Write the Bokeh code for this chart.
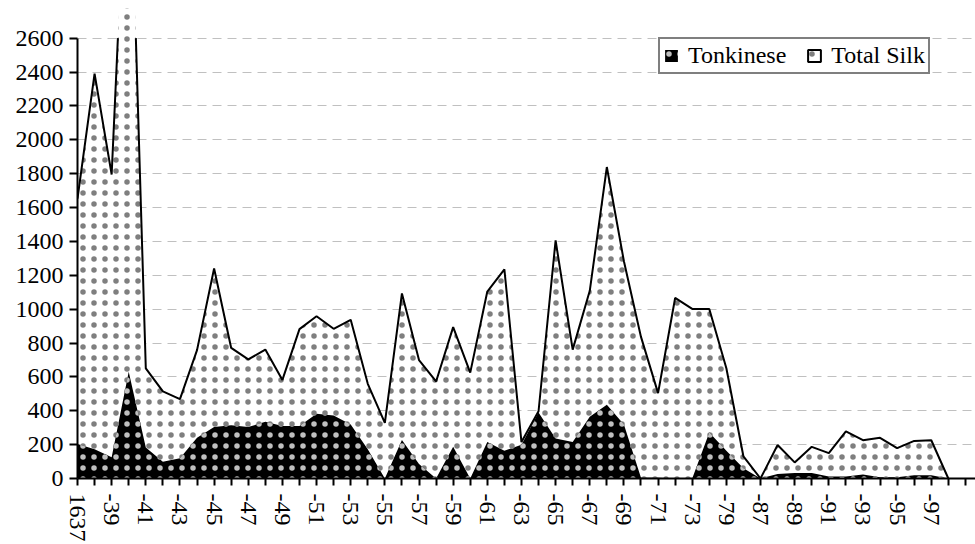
import numpy as np
from bokeh.plotting import figure
from bokeh.models import Range1d, FixedTicker, Legend, LegendItem
from bokeh.embed import file_html
from bokeh.resources import INLINE

# ---- data ----
categories = ["1637", "-38", "-39", "-40", "-41", "-42", "-43", "-44", "-45", "-46",
              "-47", "-48", "-49", "-50", "-51", "-52", "-53", "-54", "-55", "-56",
              "-57", "-58", "-59", "-60", "-61", "-62", "-63", "-64", "-65", "-66",
              "-67", "-68", "-69", "-70", "-71", "-72", "-73", "-74", "-79", "-80",
              "-87", "-88", "-89", "-90", "-91", "-92", "-93", "-94", "-95", "-96",
              "-97", "-98"]
total_silk = [1653, 2390, 1795, 4000, 650, 514, 469, 758, 1240, 771,
              703, 761, 582, 882, 958, 884, 937, 559, 329, 1093,
              699, 573, 894, 625, 1104, 1235, 215, 397, 1406, 761,
              1108, 1839, 1283, 836, 504, 1066, 1001, 1001, 651, 130,
              0, 198, 95, 187, 150, 278, 226, 240, 179, 222,
              226, 0]
tonkinese = [203, 173, 125, 631, 183, 99, 120, 241, 304, 314,
             304, 335, 310, 310, 382, 372, 319, 173, 0, 228,
             86, 0, 187, 0, 216, 164, 200, 390, 236, 216,
             364, 436, 319, 5, 5, 0, 0, 271, 164, 60,
             0, 27, 33, 33, 12, 12, 23, 8, 8, 19,
             19, 0]
y_ticks = list(range(0, 2601, 200))
series_names = ["Tonkinese", "Total Silk"]

FONT = '"Liberation Serif", "Times New Roman", serif'
FS = "24px"
n = len(categories)
xs = np.arange(n)

SILK_H = dict(hatch_pattern="dot", hatch_scale=11, hatch_weight=0.1,
              hatch_color="black", hatch_alpha=0.5)
TONK_H = dict(hatch_pattern="dot", hatch_scale=11, hatch_weight=0.1,
              hatch_color="white", hatch_alpha=0.75)

p = figure(width=975, height=544, x_range=Range1d(0, 52.59), y_range=Range1d(0, 2775),
           output_backend="svg", toolbar_location=None,
           min_border_left=77, min_border_right=0, min_border_top=8, min_border_bottom=61)
p.outline_line_color = None
p.background_fill_color = "white"
p.border_fill_color = "white"

# areas
silk_area = p.varea(x=xs, y1=0, y2=total_silk, fill_color="white", **SILK_H)
tonk_area = p.varea(x=xs, y1=0, y2=tonkinese, fill_color="black", **TONK_H)

# total silk outline, clipped at the top value axis (2600)
cap = y_ticks[-1]
lx, ly = [], []
for k in range(n):
    x1, y1 = xs[k], total_silk[k]
    if k > 0:
        x0, y0 = xs[k - 1], total_silk[k - 1]
        if (y0 <= cap) != (y1 <= cap):
            t = (cap - y0) / (y1 - y0)
            lx.append(x0 + t * (x1 - x0)); ly.append(cap)
            if y1 > cap:
                lx.append(np.nan); ly.append(np.nan)
    if y1 <= cap:
        lx.append(x1); ly.append(y1)
p.line(lx, ly, line_color="black", line_width=2)

# legend proxy for the outlined total-silk swatch (no visible data)
leg_silk = p.patch(x=[np.nan], y=[np.nan], fill_color="white", line_color="black",
                   line_width=2, **SILK_H)
legend = Legend(items=[LegendItem(label=series_names[0], renderers=[tonk_area]),
                       LegendItem(label=series_names[1], renderers=[leg_silk])],
                orientation="horizontal", location=(581, 404),
                glyph_width=16, glyph_height=15, label_standoff=9, spacing=20,
                padding=3, margin=0,
                label_text_font=FONT, label_text_font_size=FS, label_text_color="black",
                border_line_color="black", border_line_width=2,
                background_fill_color="white", background_fill_alpha=1)
p.add_layout(legend)

# axes
p.xgrid.visible = False
p.ygrid.grid_line_color = "#c0c0c0"
p.ygrid.grid_line_dash = "9 6"
p.ygrid.grid_line_width = 1

p.yaxis.ticker = FixedTicker(ticks=y_ticks)
p.yaxis.bounds = (0, cap)
p.yaxis.major_tick_in = 0
p.yaxis.major_tick_out = 8
p.yaxis.minor_tick_line_color = None
p.yaxis.axis_line_width = 2
p.yaxis.major_tick_line_width = 2
p.yaxis.major_label_standoff = 6
p.yaxis.major_label_text_font = FONT
p.yaxis.major_label_text_font_size = FS
p.yaxis.major_label_text_color = "black"

p.xaxis.ticker = FixedTicker(ticks=list(range(n + 1)))
p.xaxis.major_label_overrides = {i: (categories[i] if (i < n and i % 2 == 0) else "") for i in range(n + 1)}
p.xaxis.major_label_orientation = "vertical"
p.xaxis.major_tick_in = 0
p.xaxis.major_tick_out = 7
p.xaxis.minor_tick_line_color = None
p.xaxis.axis_line_width = 2
p.xaxis.major_tick_line_width = 2
p.xaxis.major_label_standoff = 8
p.xaxis.major_label_text_font = FONT
p.xaxis.major_label_text_font_size = FS
p.xaxis.major_label_text_color = "black"

open("out.html", "w").write(file_html(p, INLINE))
